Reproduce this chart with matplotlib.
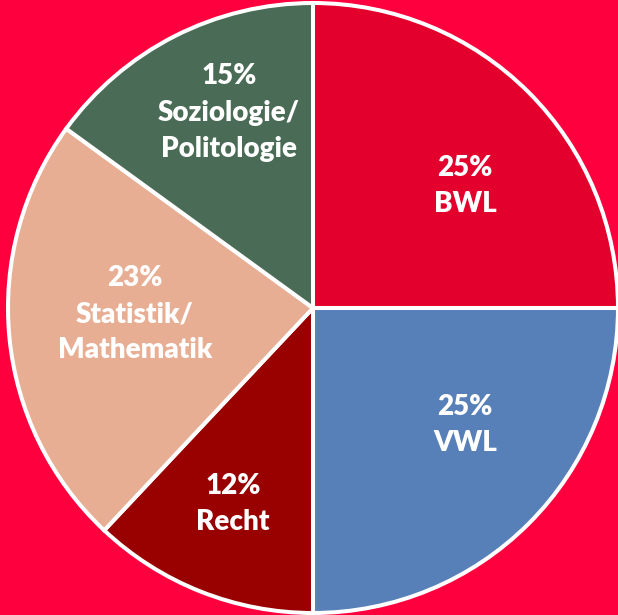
import matplotlib.pyplot as plt

# Studienfächer, Anteile in %
faecher = ['BWL', 'VWL', 'Recht', 'Statistik/\nMathematik', 'Soziologie/\nPolitologie']
anteile = [25, 25, 12, 23, 15]
farben = ['#E4002D', '#5880B8', '#990000', '#E8AE94', '#4A6B55']

# Label-Positionen (Pixel im Bild, Mitte des Textblocks)
label_pos = [(465, 186), (465, 425), (233, 504), (135, 314), (229, 113)]

W, H = 618, 615
CX, CY, R = 313, 308, 305   # Mittelpunkt und Radius in Pixeln

fig = plt.figure(figsize=(W / 100, H / 100), dpi=100)
fig.patch.set_facecolor('#FF003F')
ax = fig.add_axes([0, 0, 1, 1])
ax.set_facecolor('#FF003F')

ax.pie(anteile, colors=farben, startangle=90, counterclock=False, radius=1.0,
       wedgeprops=dict(edgecolor='white', linewidth=2.9))

ax.set_xlim(-CX / R, (W - CX) / R)
ax.set_ylim(-(H - CY) / R, CY / R)
ax.set_aspect('equal')
ax.axis('off')

for name, wert, (px, py) in zip(faecher, anteile, label_pos):
    x = (px - CX) / R
    y = (CY - py) / R
    ax.text(x, y, '%d%%\n%s' % (wert, name), ha='center', va='center',
            color='white', fontsize=20, fontweight='heavy', family='Lato',
            linespacing=1.5)

fig.savefig('out.png', dpi=100, facecolor=fig.get_facecolor())
